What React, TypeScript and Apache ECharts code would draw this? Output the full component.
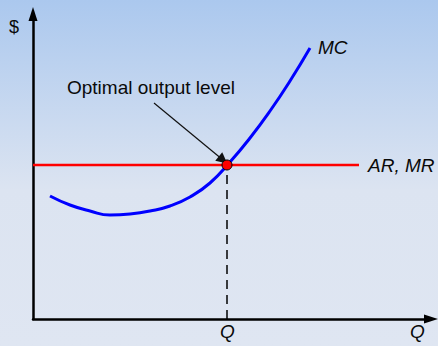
import React, { useEffect, useRef } from "react";
import * as echarts from "echarts";

// Data in chart units (x: output, y: $) at even steps
const mcQ = [17, 37, 57, 77, 97, 117, 137, 157, 177, 197, 217, 237, 257, 277];
const mcCost = [123, 114, 108, 104, 105, 108, 113, 122, 136, 157, 181, 208, 238, 271];
const priceLevel = 154;
const priceLineRange = [0, 326];
const optimalQ = 194;
const annotationArrow: [number, number][] = [[121, 216], [190, 159]];
const xMax = 398;
const yMax = 305;

const FONT = "'Liberation Sans', Arial, sans-serif";

export default function App() {
  const ref = useRef<HTMLDivElement>(null);
  useEffect(() => {
    if (!ref.current) return;
    const chart = echarts.init(ref.current, undefined, { renderer: "svg" });
    const textStyle = (s: any) => ({ fontFamily: FONT, fontSize: 19, fill: "#0a0a0a", ...s });
    const axisCommon = {
      axisLine: {
        show: true, onZero: false, symbol: ["none", "triangle"], symbolSize: [9, 14],
        lineStyle: { color: "#000", width: 2.5 },
      },
      axisTick: { show: false }, axisLabel: { show: false }, splitLine: { show: false },
    };
    chart.setOption({
      animation: false,
      backgroundColor: {
        type: "linear", x: 0, y: 0, x2: 0, y2: 1,
        colorStops: [
          { offset: 0, color: "#abc8ee" },
          { offset: 0.55, color: "#dce4f1" },
          { offset: 1, color: "#dfe6f2" },
        ],
      },
      grid: { left: 33, right: 7, top: 14, bottom: 27 },
      xAxis: { type: "value", min: 0, max: xMax, ...axisCommon },
      yAxis: { type: "value", min: 0, max: yMax, ...axisCommon },
      series: [
        {
          type: "line",
          data: [[priceLineRange[0], priceLevel], [priceLineRange[1], priceLevel]],
          symbol: "none",
          lineStyle: { color: "#ff0000", width: 2.5 },
          z: 2,
        },
        {
          type: "line",
          data: [[optimalQ, 0], [optimalQ, priceLevel]],
          symbol: "none",
          lineStyle: { color: "#000", width: 1.5, type: [9, 6] },
          z: 2,
        },
        {
          type: "line",
          data: mcQ.map((q, i) => [q, mcCost[i]]),
          smooth: 0.5,
          symbol: "none",
          lineStyle: { color: "#0000ff", width: 3 },
          z: 3,
        },
        {
          type: "lines",
          coordinateSystem: "cartesian2d",
          data: [{ coords: annotationArrow }],
          symbol: ["none", "triangle"],
          symbolSize: [7, 11],
          lineStyle: { color: "#111", width: 1.2, opacity: 1 },
          z: 4,
        },
        {
          type: "scatter",
          data: [[optimalQ, priceLevel]],
          symbolSize: 10,
          itemStyle: { color: "#ff0000", borderColor: "#000", borderWidth: 1, opacity: 1 },
          z: 5,
        },
      ],
      graphic: [
        { type: "text", left: 9, top: 18, style: textStyle({ text: "$", fontSize: 18 }) },
        { type: "text", left: 318, top: 38, style: textStyle({ text: "MC", fontStyle: "italic" }) },
        { type: "text", left: 368, top: 156, style: textStyle({ text: "AR, MR", fontStyle: "italic" }) },
        { type: "text", left: 220, top: 322, style: textStyle({ text: "Q", fontStyle: "italic" }) },
        { type: "text", left: 410, top: 322, style: textStyle({ text: "Q", fontStyle: "italic" }) },
        { type: "text", left: 67, top: 78, style: textStyle({ text: "Optimal output level" }) },
      ],
    });
    return () => chart.dispose();
  }, []);
  return (
    <div
      ref={ref}
      style={{ position: "fixed", left: 0, top: 0, width: 438, height: 346 }}
    />
  );
}
